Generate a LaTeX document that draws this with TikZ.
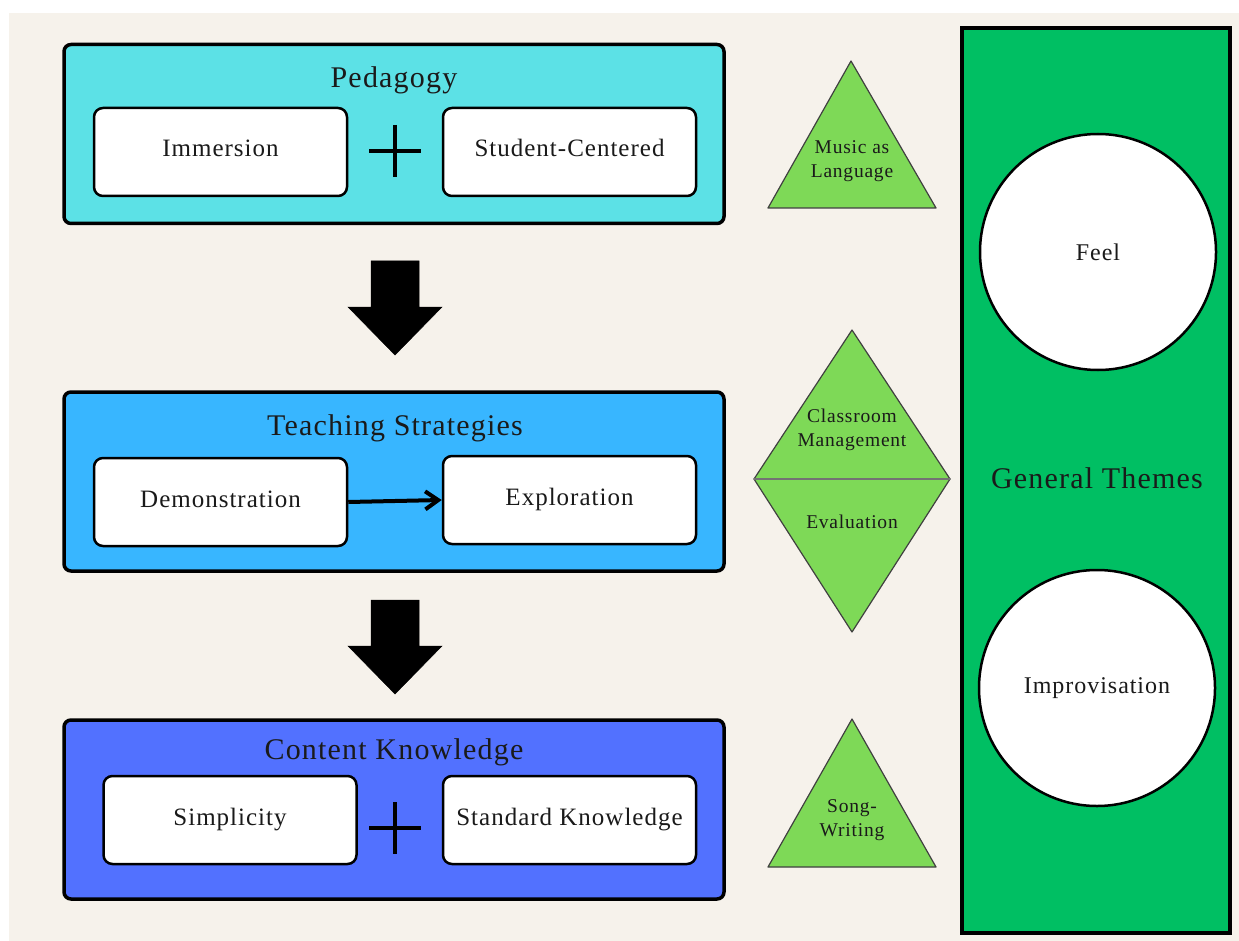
\documentclass[tikz,border=0pt]{standalone}
\usepackage{fontspec}
\setmainfont{Liberation Serif}
\newfontfamily\spacedfont[LetterSpace=4]{Liberation Serif}
\usetikzlibrary{arrows.meta}

\definecolor{paper}{HTML}{F6F2EB}
\definecolor{pedcol}{HTML}{5CE1E6}
\definecolor{teachcol}{HTML}{38B6FF}
\definecolor{contcol}{HTML}{5271FF}
\definecolor{themecol}{HTML}{00BF63}
\definecolor{tricol}{HTML}{7ED957}
\definecolor{ink}{HTML}{1A1A1A}

\tikzset{
    bigbox/.style={draw=black, line width=3.5pt, rounded corners=7pt, minimum width=660pt, minimum height=179pt},
    itembox/.style={draw=black, fill=white, line width=2.5pt, rounded corners=9pt, minimum width=253pt, minimum height=88pt, text height=18pt, text depth=8pt, text=ink, font=\spacedfont\fontsize{25}{30}\selectfont},
    boxtitle/.style={text=ink, font=\spacedfont\fontsize{30}{36}\selectfont},
    trilabel/.style={text=ink, align=center, font=\spacedfont\fontsize{19.5}{23.5}\selectfont},
    tri/.style={fill=tricol, draw=black!75, line width=1.2pt, line join=round},
    plus/.style={line width=4.5pt, draw=black},
    blockarrow/.style={fill=black, draw=black, line width=0.5pt},
    themecircle/.style={circle, draw=black, fill=white, line width=2.5pt, minimum size=236pt, text=ink, font=\spacedfont\fontsize{24}{29}\selectfont}
}

\begin{document}
\begin{tikzpicture}[x=1pt, y=-1pt]
    \useasboundingbox[fill=white] (0,0) rectangle (1239,941);
    \fill[paper] (9,13) rectangle (1239,941);

    % drei Ebenen links
    \node[bigbox, fill=pedcol] (ped) at (394,134) {};
    \node[boxtitle] (pedtitle) at (394,80) {Pedagogy};
    \node[itembox] (imm) at (220.5,152) {Immersion};
    \node[itembox] (stud) at (569.5,152) {Student-Centered};
    \coordinate (plusA) at (395,151);
    \draw[plus] (plusA) ++(-26,0) -- ++(52,0) (plusA) ++(0,-26) -- ++(0,52);

    \node[bigbox, fill=teachcol] (teach) at (394,481.5) {};
    \node[boxtitle] (teachtitle) at (395,428) {Teaching Strategies};
    \node[itembox] (demo) at (220.5,502) {Demonstration};
    \node[itembox] (explo) at (569.5,500) {Exploration};
    \draw[line width=4pt, -{Straight Barb[length=13pt, width=18pt]}] (demo.east) -- (explo.west);

    \node[bigbox, fill=contcol] (cont) at (394,809.5) {};
    \node[boxtitle] (conttitle) at (394,752) {Content Knowledge};
    \node[itembox] (simp) at (230,820) {Simplicity};
    \node[itembox] (stdk) at (569.5,820) {Standard Knowledge};
    \coordinate (plusB) at (395,828);
    \draw[plus] (plusB) ++(-26,0) -- ++(52,0) (plusB) ++(0,-26) -- ++(0,52);

    % Blockpfeile zwischen den Ebenen
    \foreach \dy in {0,339} {
        \filldraw[blockarrow] (371,261+\dy) -- (419,261+\dy) -- (419,307+\dy) -- (442,307+\dy)
            -- (395,355+\dy) -- (348,307+\dy) -- (371,307+\dy) -- cycle;
    }

    % Dreiecke in der Mitte
    \draw[tri] (851,61) -- (936,208) -- (768,208) -- cycle;
    \node[trilabel] (lang) at (852,161) {Music as\\Language};

    \draw[tri] (852,330) -- (950,479) -- (754,479) -- cycle;
    \draw[tri] (754,479) -- (950,479) -- (852,632) -- cycle;
    \draw[line width=2.5pt, black!55] (754,479) -- (950,479);
    \node[trilabel] (manage) at (852,430) {Classroom\\Management};
    \node[trilabel] (eval) at (852,522) {Evaluation};

    \draw[tri] (852,719) -- (936,867) -- (768,867) -- cycle;
    \node[trilabel] (song) at (852,820) {Song-\\Writing};

    % rechte Spalte
    \node[draw=black, fill=themecol, line width=4pt, minimum width=268pt, minimum height=905pt] (themes) at (1096,480.5) {};
    \node[themecircle] (feel) at (1098,252) {Feel};
    \node[themecircle] (impro) at (1097,688) {Improvisation};
    \node[boxtitle] (themetitle) at (1097,478) {General Themes};
\end{tikzpicture}
\end{document}
